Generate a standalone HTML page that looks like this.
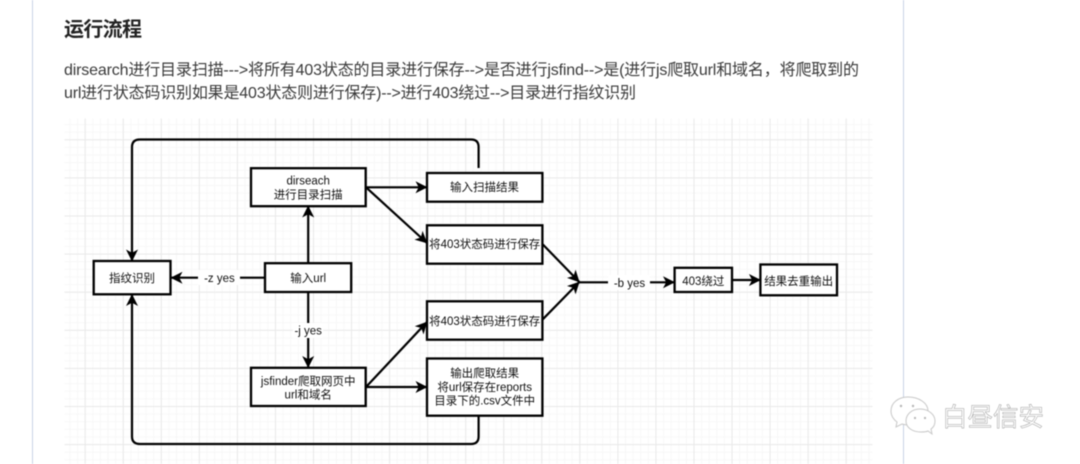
<!DOCTYPE html>
<html lang="zh">
<head>
<meta charset="utf-8">
<title>运行流程</title>
<style>
html,body{margin:0;padding:0;background:#fff;width:1080px;height:464px;overflow:hidden}
svg{display:block;filter:blur(.45px)}
text{font-family:"Liberation Sans","Noto Sans CJK SC",sans-serif}
.l{font-size:11.5px;fill:#111;text-anchor:middle}
.b{fill:#fff;stroke:#000;stroke-width:2.3}
.c{fill:none;stroke:#000;stroke-width:2.2;marker-end:url(#a)}
</style>
</head>
<body>
<svg width="1080" height="464" viewBox="0 0 1080 464" xmlns="http://www.w3.org/2000/svg">
<defs>
<marker id="a" markerUnits="userSpaceOnUse" markerWidth="14" markerHeight="14" refX="11.5" refY="7" orient="auto">
<path d="M0,1 L12,7 L0,13 L3.2,7 z" fill="#000"/>
</marker>
<pattern id="minor" x="84.7" y="139.3" width="7.61" height="7.62" patternUnits="userSpaceOnUse">
<path d="M.5,0V7.62M0,.5H7.61" stroke="#f7f7f7" stroke-width="1" fill="none"/>
</pattern>
<pattern id="major" x="84.7" y="139.3" width="38.05" height="38.1" patternUnits="userSpaceOnUse">
<path d="M.5,0V38.1M0,.5H38.05" stroke="#e9e9e9" stroke-width="1" fill="none"/>
</pattern>
</defs>

<rect width="1080" height="464" fill="#fff"/>
<rect x="32" y="0" width="1" height="464" fill="#c9d3e6"/>
<rect x="903" y="0" width="1" height="464" fill="#c9d3e6"/>

<text x="64" y="36" font-size="20" font-weight="700" fill="#222" textLength="78">运行流程</text>
<text x="64" y="75" font-size="16" fill="#3a3a3a" textLength="795" lengthAdjust="spacing">dirsearch进行目录扫描---&gt;将所有403状态的目录进行保存--&gt;是否进行jsfind--&gt;是(进行js爬取url和域名，将爬取到的</text>
<text x="64" y="98" font-size="16" fill="#3a3a3a" textLength="572" lengthAdjust="spacing">url进行状态码识别如果是403状态则进行保存)--&gt;进行403绕过--&gt;目录进行指纹识别</text>

<rect x="64.5" y="118.5" width="808" height="346" fill="url(#minor)"/>
<rect x="64.5" y="118.5" width="808" height="346" fill="url(#major)"/>

<!-- connectors -->
<path class="c" d="M478.6,168 V147 Q478.6,139.5 471,139.5 H140 Q132,139.5 132,147 V261"/>
<path class="c" d="M478.6,416 V436.5 Q478.6,444 471,444 H140 Q132,444 132,436.5 V294.5"/>
<path class="c" d="M366,187.3 H427"/>
<path class="c" d="M366,187.3 L427,243"/>
<path class="c" d="M308.2,263 V206"/>
<path class="c" d="M265,277.7 H171"/>
<path class="c" d="M308.2,292 V367.5"/>
<path class="c" d="M366,387 L427,322"/>
<path class="c" d="M366,387 H427"/>
<path class="c" d="M542.4,244 L579.3,282"/>
<path class="c" d="M542.4,319.7 L579.3,282"/>
<path class="c" d="M579.3,282.3 H674.5"/>
<path class="c" d="M732,280 H760.4"/>

<!-- edge labels -->
<rect x="198" y="270" width="42" height="15" fill="#fff"/>
<text class="l" x="219.4" y="282">-z yes</text>
<rect x="293" y="323" width="30" height="15" fill="#fff"/>
<text class="l" x="308.2" y="334.5">-j yes</text>
<rect x="608" y="275" width="42" height="15" fill="#fff"/>
<text class="l" x="629.5" y="287">-b yes</text>

<!-- boxes -->
<rect class="b" x="251" y="168.2" width="114.7" height="38"/>
<text class="l" x="308.2" y="184.5">dirseach</text>
<text class="l" x="308.2" y="198.5">进行目录扫描</text>

<rect class="b" x="427" y="173" width="115.4" height="28.7"/>
<text class="l" x="484.5" y="191">输入扫描结果</text>

<rect class="b" x="427" y="225.3" width="115.4" height="38.4"/>
<text class="l" x="484.7" y="248">将403状态码进行保存</text>

<rect class="b" x="93.7" y="261" width="76.8" height="33.3"/>
<text class="l" x="132" y="282">指纹识别</text>

<rect class="b" x="265" y="263.2" width="86.2" height="28.8"/>
<text class="l" x="308.2" y="282">输入url</text>

<rect class="b" x="427" y="301.3" width="115.4" height="38.4"/>
<text class="l" x="484.7" y="325">将403状态码进行保存</text>

<rect class="b" x="251" y="367.8" width="114.7" height="38.2"/>
<text class="l" x="308.2" y="385">jsfinder爬取网页中</text>
<text class="l" x="308.2" y="398.5">url和域名</text>

<rect class="b" x="427" y="358.5" width="115.4" height="57.2"/>
<text class="l" x="484.7" y="377">输出爬取结果</text>
<text class="l" x="484.7" y="391">将url保存在reports</text>
<text class="l" x="484.7" y="404.5">目录下的.csv文件中</text>

<rect class="b" x="674.6" y="267.8" width="57.4" height="24.2"/>
<text class="l" x="703.3" y="285">403绕过</text>

<rect class="b" x="760.4" y="264.5" width="76.6" height="30.8"/>
<text class="l" x="798.7" y="285">结果去重输出</text>

<!-- watermark -->
<g fill="#fff" stroke="#c8c8c8" stroke-width="1">
<path d="M908,397 C898,397 891,403 891,411 C891,416 894,420 897,422 L896,427 L902,424 C905,425 907,425 910,425 C921,425 928,419 928,411 C928,403 919,397 908,397 Z"/>
<path d="M920,409 C911,409 906,415 906,421 C906,428 913,432 921,432 C924,432 926,432 928,431 L932,434 L931,429 C934,427 935,424 935,421 C935,415 929,409 920,409 Z"/>
</g>
<g fill="#b5b5b5">
<circle cx="901" cy="406" r="1.2"/><circle cx="913" cy="406" r="1.2"/>
<circle cx="915" cy="418" r="1.1"/><circle cx="925" cy="418" r="1.1"/>
</g>
<text x="942" y="426" font-size="25.5" fill="#fff" stroke="#a0a0a0" stroke-width=".5" textLength="102">白昼信安</text>
</svg>
</body>
</html>
